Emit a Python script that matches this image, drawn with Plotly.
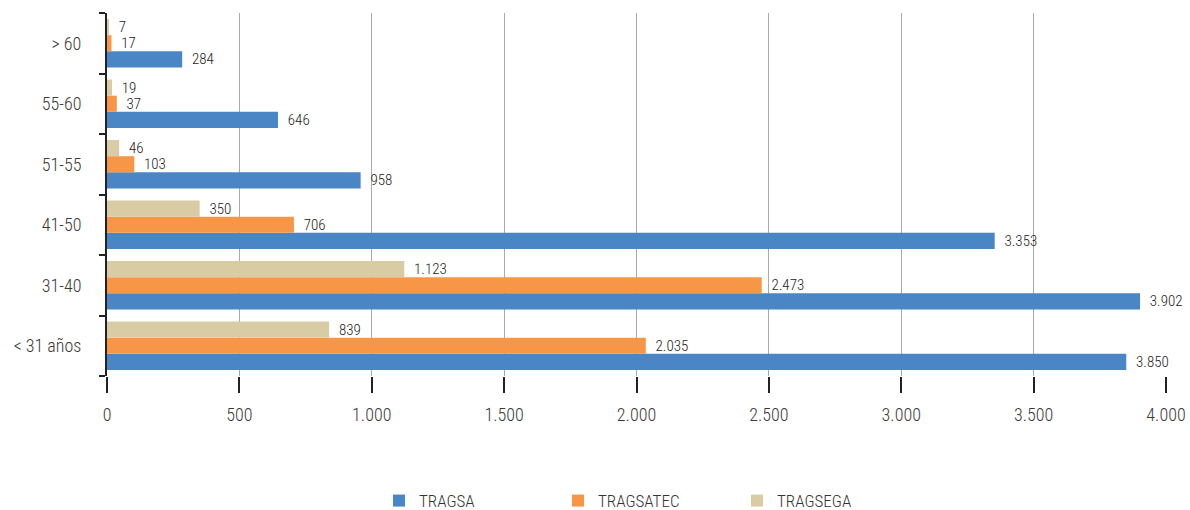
import plotly.graph_objects as go

categories = ["< 31 años", "31-40", "41-50", "51-55", "55-60", "> 60"]
tragsa = [3850, 3902, 3353, 958, 646, 284]
tragsatec = [2035, 2473, 706, 103, 37, 17]
tragsega = [839, 1123, 350, 46, 19, 7]
series_names = ["TRAGSA", "TRAGSATEC", "TRAGSEGA"]
colors = ["#4A86C6", "#F79646", "#D9CBA3"]
x_ticks = [0, 500, 1000, 1500, 2000, 2500, 3000, 3500, 4000]

FONT = "Roboto Condensed, Liberation Sans, sans-serif"

fig = go.Figure()
for name, vals, col in zip(series_names, [tragsa, tragsatec, tragsega], colors):
    fig.add_trace(go.Bar(
        y=categories, x=vals, name=name, orientation="h",
        marker=dict(color=col, line=dict(width=0)),
        texttemplate="  %{x:,}", textposition="outside",
        textfont=dict(family=FONT, size=15, color="#222222"),
        cliponaxis=False, constraintext="none",
    ))

fig.update_layout(
    width=1190, height=510,
    margin=dict(l=107, r=24, t=13, b=134),
    barmode="group", bargap=0.2, bargroupgap=0,
    separators=",.",
    plot_bgcolor="white", paper_bgcolor="white",
    font=dict(family=FONT, size=18, color="#333333", weight=300),
    showlegend=True,
    legend=dict(orientation="h", xref="container", x=0.3185, xanchor="left",
                yref="container", y=0.0176, yanchor="middle",
                font=dict(size=17, color="#333333", weight=300),
                entrywidth=134, entrywidthmode="pixels", traceorder="normal"),
    xaxis=dict(range=[0, 4000], tickvals=x_ticks, tickformat=",d",
               showgrid=True, gridcolor="#AAAAAA", gridwidth=1,
               ticks="outside", ticklen=16, tickcolor="#222222", tickwidth=2,
               showline=False, zeroline=False, automargin=False,
               ticklabelstandoff=6,
               tickfont=dict(size=18, color="#3a3a3a", weight=300)),
    yaxis=dict(categoryorder="array", categoryarray=categories,
               showline=True, linecolor="#222222", linewidth=2,
               ticks="outside", ticklen=6, tickcolor="#222222", tickwidth=2,
               tickson="boundaries", showgrid=False, automargin=False,
               ticklabelstandoff=20,
               tickfont=dict(size=18, color="#3a3a3a", weight=300)),
)

fig.write_html("out.html",
               config={"displayModeBar": False},
               post_script="document.body.style.margin='0px';document.body.style.overflow='hidden';")
